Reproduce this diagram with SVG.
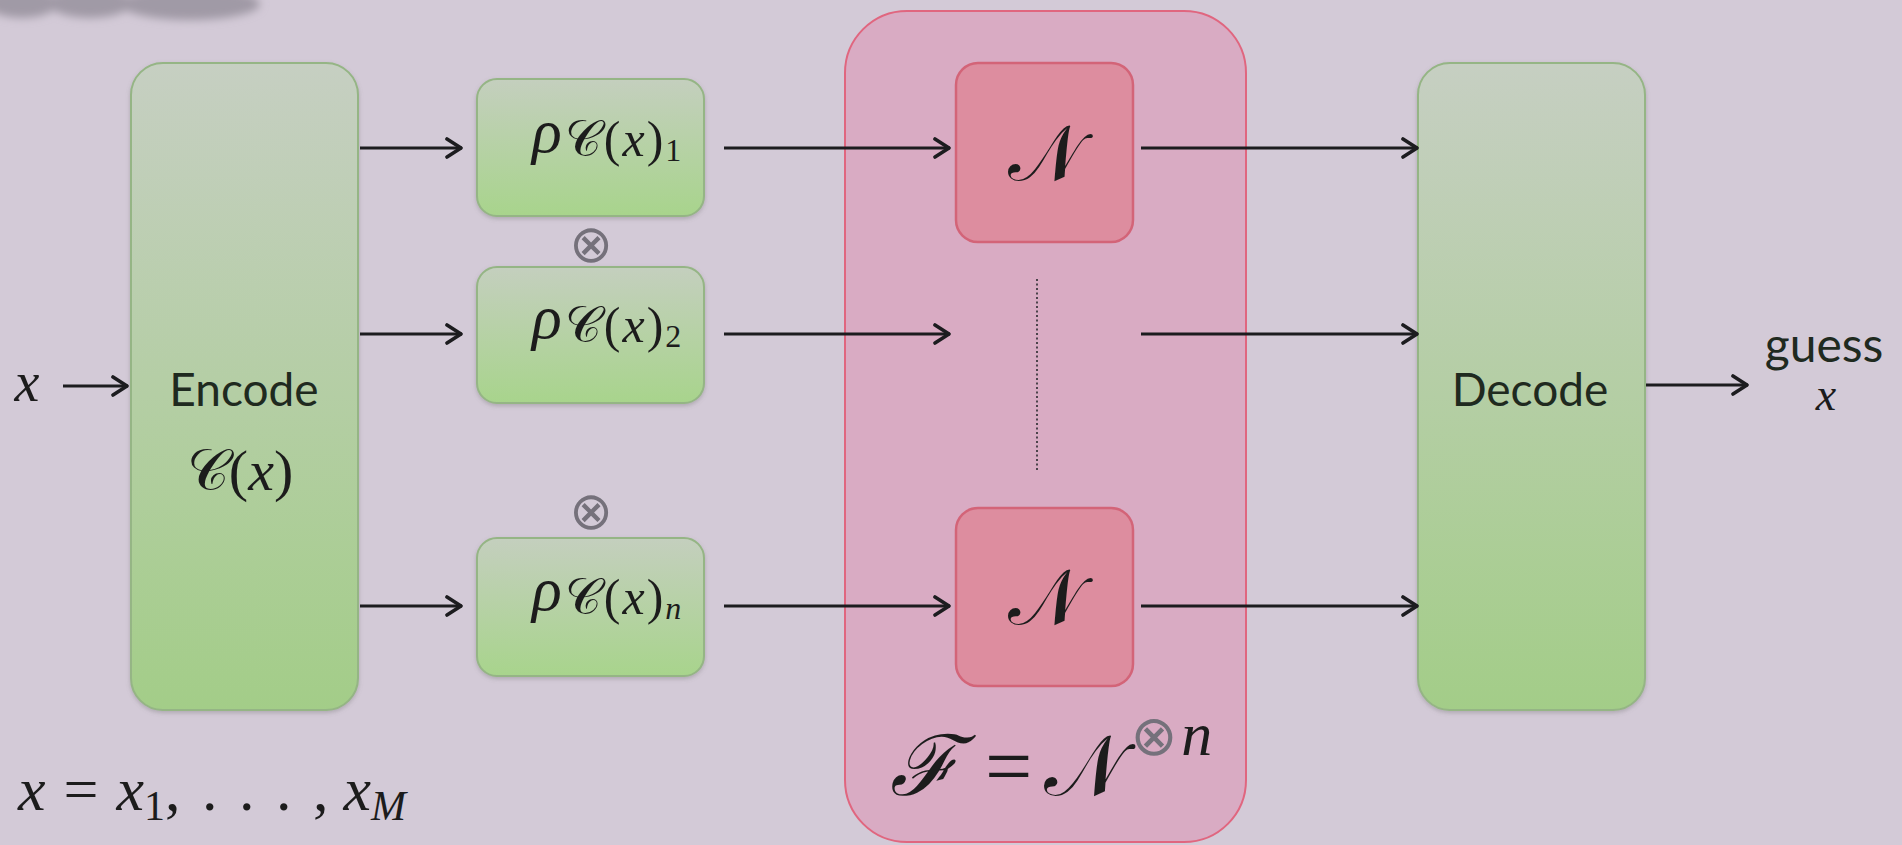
<svg xmlns="http://www.w3.org/2000/svg" width="1902" height="845" viewBox="0 0 1902 845">
  <defs>
    <linearGradient id="gBig" x1="0" y1="0" x2="0" y2="1">
      <stop offset="0" stop-color="#c6cfc2"/>
      <stop offset="1" stop-color="#a3cd88"/>
    </linearGradient>
    <linearGradient id="gSmall" x1="0" y1="0" x2="0" y2="1">
      <stop offset="0" stop-color="#c4cfbe"/>
      <stop offset="1" stop-color="#a8d48c"/>
    </linearGradient>
    <filter id="soft" x="-20%" y="-50%" width="140%" height="200%">
      <feGaussianBlur stdDeviation="4"/>
    </filter>
    <filter id="shadow" x="-10%" y="-10%" width="120%" height="120%">
      <feDropShadow dx="0" dy="2" stdDeviation="2" flood-color="#6a6a6a" flood-opacity="0.35"/>
    </filter>
    <marker id="arrow" viewBox="0 0 18 22" refX="17" refY="11" markerWidth="18" markerHeight="22" markerUnits="userSpaceOnUse" orient="auto">
      <path d="M2,2 L16,11 L2,20" fill="none" stroke="#1c1c1f" stroke-width="3.6" stroke-linecap="round" stroke-linejoin="round"/>
    </marker>
  </defs>
  <style>
    .green { fill: url(#gBig); stroke: #95b585; stroke-width: 2; }
    .greenS { fill: url(#gSmall); stroke: #95b585; stroke-width: 2; }
    .chan { fill: #d9abc3; stroke: #e0667f; stroke-width: 2; }
    .noise { fill: #dd8d9f; stroke: #d36478; stroke-width: 2.5; }
    .edge { stroke: #1c1c1f; stroke-width: 3; fill: none; marker-end: url(#arrow); }
    .sans { font-family: Lato, "Open Sans", "Liberation Sans", sans-serif; fill: #1f2a1f; }
    .math { font-family: "Liberation Serif", "DejaVu Serif", serif; font-style: italic; fill: #1c1c1c; }
    .mrm { font-family: "Liberation Serif", "DejaVu Serif", serif; font-style: normal; fill: #1c1c1c; }
    .cal { font-family: "DejaVu Sans", "Noto Sans", serif; font-style: normal; fill: #1c1c1c; }
    .otimes { font-family: "DejaVu Sans", sans-serif; fill: #75717b; }
  </style>

  <!-- backdrop -->
  <rect x="0" y="0" width="1902" height="845" fill="#d3cad7"/>
  <g fill="#a09aa6" filter="url(#soft)">
    <ellipse cx="22" cy="3" rx="36" ry="15"/>
    <ellipse cx="90" cy="3" rx="42" ry="15"/>
    <ellipse cx="190" cy="4" rx="70" ry="16"/>
  </g>

  <!-- channel block F -->
  <g id="channel">
    <rect class="chan" x="845" y="11" width="401" height="831" rx="62"/>
    <text x="890" y="795" font-size="84"><tspan class="math">ℱ</tspan><tspan class="mrm" dx="26">=</tspan><tspan class="cal" dx="12">𝒩</tspan><tspan class="otimes" font-size="56" dy="-40" dx="6">⊗</tspan><tspan class="math" font-size="62" dx="4">n</tspan></text>
  </g>

  <!-- encoder -->
  <g id="encode">
    <rect class="green" x="131" y="63" width="227" height="647" rx="32" filter="url(#shadow)"/>
    <text class="sans" x="244" y="406" font-size="46" text-anchor="middle">Encode</text>
    <text x="240" y="490" font-size="58" text-anchor="middle"><tspan class="cal">𝒞</tspan><tspan class="mrm">(</tspan><tspan class="math">x</tspan><tspan class="mrm">)</tspan></text>
  </g>

  <!-- codeword states -->
  <g id="rho1">
    <rect class="greenS" x="477" y="79" width="227" height="137" rx="20" filter="url(#shadow)"/>
    <text x="532" y="152" font-size="62"><tspan class="math">ρ</tspan><tspan class="cal" font-size="50" dy="4" dx="3">𝒞</tspan><tspan class="mrm" font-size="50" dx="3">(</tspan><tspan class="math" font-size="50" dx="2">x</tspan><tspan class="mrm" font-size="50" dx="2">)</tspan><tspan class="mrm" font-size="32" dy="5" dx="2">1</tspan></text>
  </g>
  <g id="tensor1">
    <text class="otimes" x="591" y="262" font-size="52" text-anchor="middle">⊗</text>
  </g>
  <g id="rho2">
    <rect class="greenS" x="477" y="267" width="227" height="136" rx="20" filter="url(#shadow)"/>
    <text x="532" y="338" font-size="62"><tspan class="math">ρ</tspan><tspan class="cal" font-size="50" dy="4" dx="3">𝒞</tspan><tspan class="mrm" font-size="50" dx="3">(</tspan><tspan class="math" font-size="50" dx="2">x</tspan><tspan class="mrm" font-size="50" dx="2">)</tspan><tspan class="mrm" font-size="32" dy="5" dx="2">2</tspan></text>
  </g>
  <g id="tensor2">
    <text class="otimes" x="591" y="529" font-size="52" text-anchor="middle">⊗</text>
  </g>
  <g id="rhon">
    <rect class="greenS" x="477" y="538" width="227" height="138" rx="20" filter="url(#shadow)"/>
    <text x="532" y="610" font-size="62"><tspan class="math">ρ</tspan><tspan class="cal" font-size="50" dy="4" dx="3">𝒞</tspan><tspan class="mrm" font-size="50" dx="3">(</tspan><tspan class="math" font-size="50" dx="2">x</tspan><tspan class="mrm" font-size="50" dx="2">)</tspan><tspan class="math" font-size="32" dy="5" dx="2">n</tspan></text>
  </g>

  <!-- single uses of the noisy channel -->
  <g id="noise1">
    <rect class="noise" x="956" y="63" width="177" height="179" rx="22"/>
    <text class="cal" x="1045" y="180" font-size="78" text-anchor="middle">𝒩</text>
  </g>
  <g id="noiseDots">
    <line x1="1037" y1="279" x2="1037" y2="471" stroke="#2a2a2e" stroke-width="1.6" stroke-dasharray="2 2.5"/>
  </g>
  <g id="noisen">
    <rect class="noise" x="956" y="508" width="177" height="178" rx="22"/>
    <text class="cal" x="1045" y="624" font-size="78" text-anchor="middle">𝒩</text>
  </g>

  <!-- decoder -->
  <g id="decode">
    <rect class="green" x="1418" y="63" width="227" height="647" rx="32" filter="url(#shadow)"/>
    <text class="sans" x="1530" y="406" font-size="46" text-anchor="middle">Decode</text>
  </g>

  <!-- input / output labels -->
  <g id="input">
    <text class="math" x="27" y="401" font-size="56" text-anchor="middle">x</text>
  </g>
  <g id="output">
    <text class="sans" x="1824" y="362" font-size="48" text-anchor="middle">guess</text>
    <text class="math" x="1826" y="410" font-size="46" text-anchor="middle">x</text>
  </g>
  <g id="message">
    <text x="18" y="810" font-size="62"><tspan class="math">x</tspan><tspan class="mrm" dx="18">=</tspan><tspan class="math" dx="18">x</tspan><tspan class="mrm" font-size="42" dy="10">1</tspan><tspan class="mrm" dy="-10" letter-spacing="3">, . . . ,</tspan><tspan class="math" dx="12">x</tspan><tspan class="math" font-size="42" dy="10">M</tspan></text>
  </g>

  <!-- connectors -->
  <g id="connectors">
    <line class="edge" x1="63" y1="386" x2="128" y2="386"/>
    <line class="edge" x1="360" y1="148" x2="462" y2="148"/>
    <line class="edge" x1="360" y1="334" x2="462" y2="334"/>
    <line class="edge" x1="360" y1="606" x2="462" y2="606"/>
    <line class="edge" x1="724" y1="148" x2="950" y2="148"/>
    <line class="edge" x1="724" y1="334" x2="950" y2="334"/>
    <line class="edge" x1="724" y1="606" x2="950" y2="606"/>
    <line class="edge" x1="1141" y1="148" x2="1418" y2="148"/>
    <line class="edge" x1="1141" y1="334" x2="1418" y2="334"/>
    <line class="edge" x1="1141" y1="606" x2="1418" y2="606"/>
    <line class="edge" x1="1646" y1="385" x2="1748" y2="385"/>
  </g>
</svg>
